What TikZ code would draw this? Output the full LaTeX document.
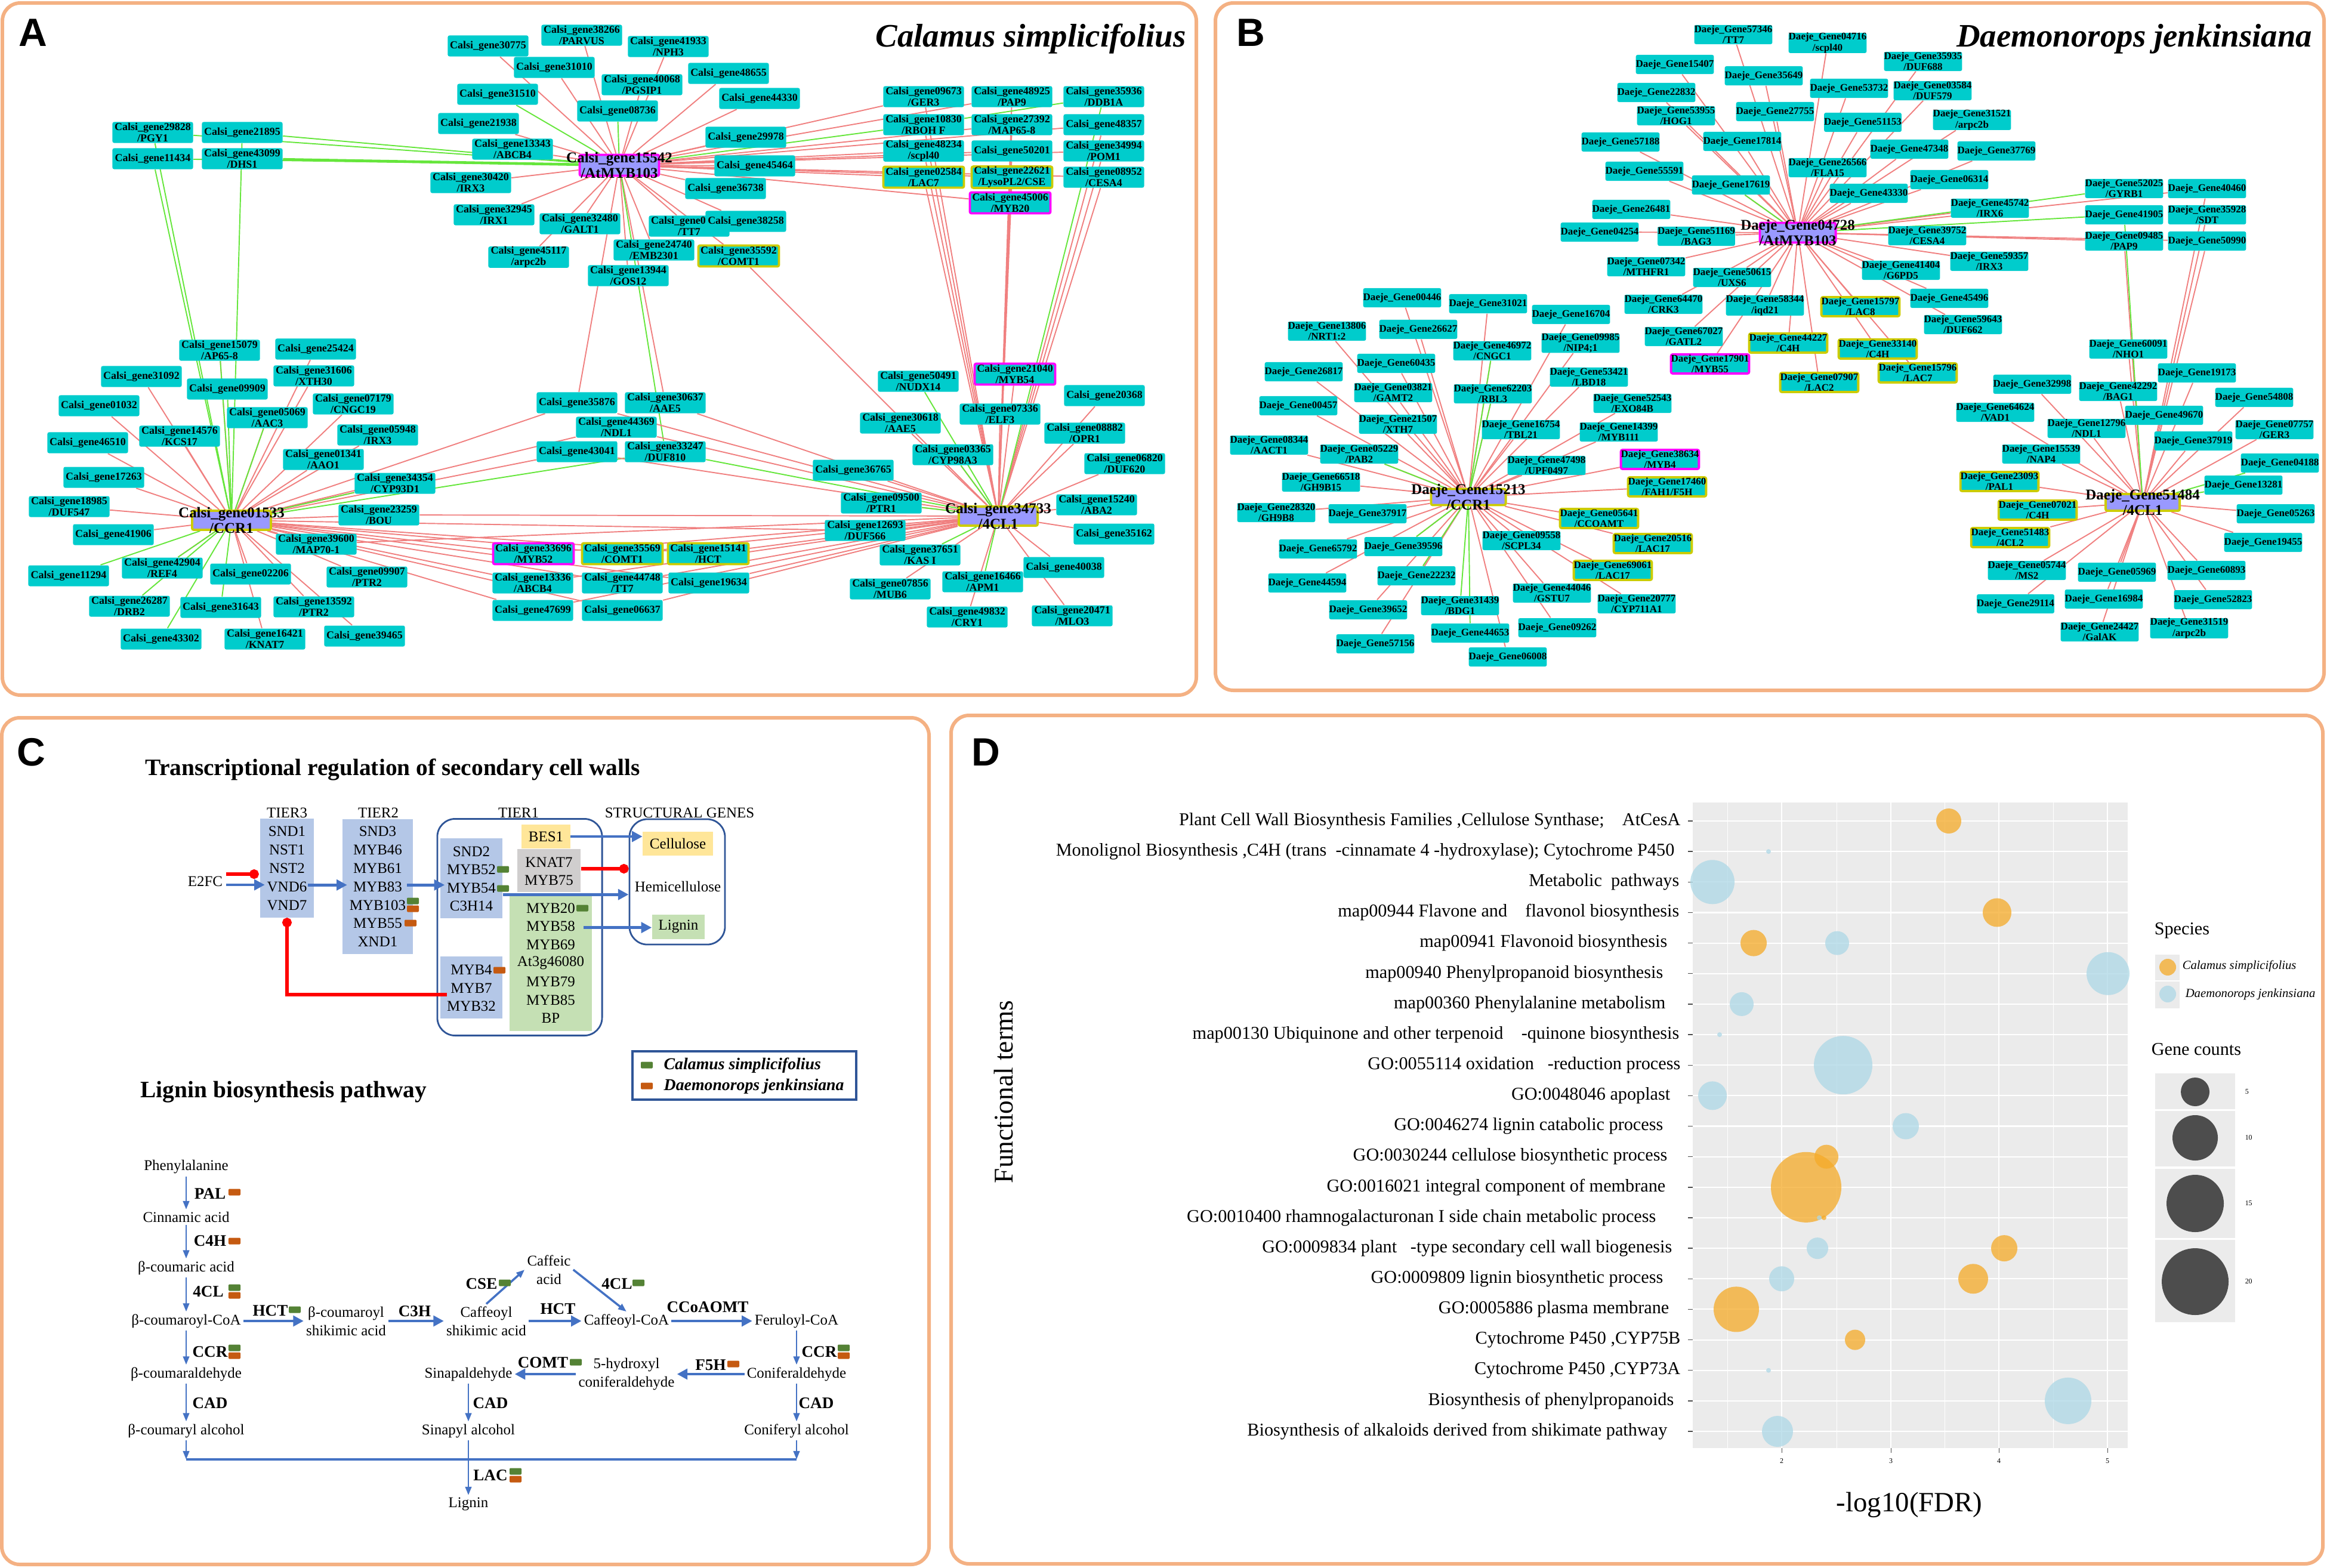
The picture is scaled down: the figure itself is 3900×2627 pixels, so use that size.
\documentclass[tikz,border=0pt]{standalone}
\usepackage{fontspec}
\setmainfont{Liberation Serif}
\setsansfont{Liberation Sans}
\usetikzlibrary{arrows.meta,backgrounds,calc,positioning}

\definecolor{framepeach}{RGB}{244,177,131}
\definecolor{genecyan}{RGB}{0,204,204}
\definecolor{hublilac}{RGB}{153,153,255}
\definecolor{ringyellow}{RGB}{204,204,0}
\definecolor{ringpink}{RGB}{255,0,255}
\definecolor{edgered}{RGB}{240,128,128}
\definecolor{edgegreen}{RGB}{102,230,60}
\definecolor{tierblue}{RGB}{180,199,231}
\definecolor{geneyellow}{RGB}{255,230,153}
\definecolor{knatgray}{RGB}{208,206,206}
\definecolor{mybgreen}{RGB}{197,224,180}
\definecolor{arrowblue}{RGB}{68,114,196}
\definecolor{boxnavy}{RGB}{47,85,151}
\definecolor{calsigreen}{RGB}{84,130,53}
\definecolor{daejeorange}{RGB}{197,90,17}
\definecolor{plotgray}{RGB}{235,235,235}
\definecolor{dotorange}{RGB}{245,170,40}
\definecolor{dotblue}{RGB}{173,216,230}
\definecolor{keygray}{RGB}{77,77,77}

\begin{document}
\begin{tikzpicture}[x=0.01cm, y=-0.01cm,
  frame/.style={draw=framepeach, line width=1.7pt, rounded corners=0.3cm},
  panel/.style={font=\fontsize{18.8}{20}\selectfont\sffamily\bfseries, inner sep=0pt},
  species/.style={font=\fontsize{15.6}{17}\selectfont\bfseries\itshape, inner sep=0pt},
  gene/.style={fill=genecyan, rounded corners=0.8pt, minimum width=1.35cm, minimum height=0.35cm,
    inner sep=0pt, align=center, font=\fontsize{5.1}{5.5}\selectfont\bfseries},
  geneb/.style={gene, minimum width=1.28cm, minimum height=0.32cm, font=\fontsize{4.85}{5.2}\selectfont\bfseries},
  ringy/.style={draw=ringyellow, line width=1.1pt},
  ringm/.style={draw=ringpink, line width=1.1pt},
  hub/.style={fill=hublilac, rounded corners=0.8pt, inner sep=0pt, line width=1.1pt},
  hubtext/.style={font=\fontsize{7.1}{7.6}\selectfont\bfseries, align=center, inner sep=0pt},
  redge/.style={draw=edgered, line width=0.55pt},
  gedge/.style={draw=edgegreen, line width=0.55pt},
  ctxt/.style={font=\fontsize{7.1}{8.8}\selectfont, inner sep=1pt, align=center},
  ctitle/.style={font=\fontsize{11.2}{12}\selectfont\bfseries, inner sep=0pt},
  enz/.style={font=\fontsize{7.7}{8}\selectfont\bfseries, inner sep=0pt},
  tierbox/.style={fill=tierblue, inner sep=0pt},
  navybox/.style={draw=boxnavy, line width=0.8pt, rounded corners=0.3cm, inner sep=0pt},
  sqg/.style={fill=calsigreen, minimum width=0.2cm, minimum height=0.11cm, inner sep=0pt, rounded corners=0.4pt},
  sqo/.style={sqg, fill=daejeorange},
  barrow/.style={draw=arrowblue, line width=1.4pt, -{Triangle[length=5pt,width=5pt]}},
  tarrow/.style={draw=arrowblue, line width=0.75pt, -{Triangle[length=4pt,width=3pt]}},
  rstop/.style={draw=red, line width=1.7pt, -{Circle[length=4.5pt]}},
  dlab/.style={font=\fontsize{8.6}{9}\selectfont, inner sep=0pt},
  dtick/.style={font=\fontsize{3.4}{4}\selectfont, inner sep=0pt},
  dleg/.style={font=\fontsize{8.6}{9}\selectfont, inner sep=0pt},
  dkey/.style={font=\fontsize{5.9}{6.5}\selectfont\itshape, inner sep=0pt},
]
\useasboundingbox (0,0) rectangle (3900,2627);
\newcommand{\calsi}[4][]{\node[gene,#1] (a#2) at (#3) {Calsi\_gene#2#4};}
\newcommand{\daeje}[4][]{\node[geneb,#1] (b#2) at (#3) {Daeje\_Gene#2#4};}
\newcommand{\wire}[4]{\foreach \g in {#4} \draw[#1] (#2) -- (#3\g);}

\draw[frame] (4,5) rectangle (2005,1165);
\draw[frame] (2037,5) rectangle (3895,1157);
\draw[frame] (3,1203) rectangle (1557,2622);
\draw[frame] (1594,1199) rectangle (3893,2621);

% A
\node[panel] (labA) at (55,55) {A};
\node[species, anchor=base east] (titA) at (1988,78) {Calamus simplicifolius};
\calsi{30775}{818,77}{}
\calsi{38266}{975,59}{\\/PARVUS}
\calsi{31010}{929,113}{}
\calsi{31510}{834,158}{}
\calsi{08736}{1035,186}{}
\calsi{21938}{802,207}{}
\calsi{13343}{859,250}{\\/ABCB4}
\calsi{30420}{789,306}{\\/IRX3}
\calsi{32945}{828,360}{\\/IRX1}
\calsi{32480}{972,375}{\\/GALT1}
\calsi{45117}{886,431}{\\/arpc2b}
\calsi{13944}{1053,462}{\\/GOS12}
\calsi{29828}{256,222}{\\/PGY1}
\calsi{21895}{406,222}{}
\calsi{11434}{256,266}{}
\calsi{43099}{406,266}{\\/DHS1}
\calsi{15079}{368,587}{\\/AP65-8}
\calsi{25424}{529,585}{}
\calsi{41933}{1120,78}{\\/NPH3}
\calsi{48655}{1221,123}{}
\calsi{40068}{1076,142}{\\/PGSIP1}
\calsi{44330}{1273,165}{}
\calsi{29978}{1250,230}{}
\calsi{45464}{1265,278}{}
\calsi{36738}{1216,316}{}
\node[gene] (aTT7) at (1155,379) {Calsi\_gene0\hphantom{0000}\\/TT7};
\calsi{38258}{1250,371}{}
\calsi{24740}{1096,419}{\\/EMB2301}
\calsi[ringy]{35592}{1238,429}{\\/COMT1}
\calsi{09673}{1548,162}{\\/GER3}
\calsi{48925}{1696,162}{\\/PAP9}
\calsi{35936}{1850,162}{\\/DDB1A}
\calsi{10830}{1548,209}{\\/RBOH F}
\calsi{27392}{1696,209}{\\/MAP65-8}
\calsi{48357}{1850,209}{}
\calsi{48234}{1548,253}{\\/scpl40}
\calsi{50201}{1696,253}{}
\calsi{34994}{1850,253}{\\/POM1}
\calsi[ringy]{02584}{1548,297}{\\/LAC7}
\calsi[ringy]{22621}{1696,297}{\\/LysoPL2/CSE}
\calsi{08952}{1850,297}{\\/CESA4}
\calsi[ringm]{45006}{1693,340}{\\/MYB20}
\calsi{31092}{237,631}{}
\calsi{09909}{381,652}{}
\calsi{31606}{526,630}{\\/XTH30}
\calsi{01032}{166,680}{}
\calsi{05069}{448,700}{\\/AAC3}
\calsi{07179}{592,677}{\\/CNGC19}
\calsi{14576}{301,731}{\\/KCS17}
\calsi{46510}{147,742}{}
\calsi{05948}{633,729}{\\/IRX3}
\calsi{01341}{542,770}{\\/AAO1}
\calsi{17263}{174,800}{}
\calsi{34354}{662,810}{\\/CYP93D1}
\calsi{18985}{116,849}{\\/DUF547}
\calsi{23259}{635,863}{\\/BOU}
\calsi{41906}{190,896}{}
\calsi{39600}{530,912}{\\/MAP70-1}
\calsi[ringm]{33696}{894,928}{\\/MYB52}
\calsi[ringy]{35569}{1043,928}{\\/COMT1}
\calsi{11294}{115,965}{}
\calsi{42904}{272,952}{\\/REF4}
\calsi{02206}{420,962}{}
\calsi{09907}{615,967}{\\/PTR2}
\calsi{13336}{893,977}{\\/ABCB4}
\calsi{44748}{1043,977}{\\/TT7}
\calsi{26287}{217,1016}{\\/DRB2}
\calsi{31643}{370,1018}{}
\calsi{13592}{526,1017}{\\/PTR2}
\calsi{47699}{893,1023}{}
\calsi{06637}{1043,1023}{}
\calsi{43302}{270,1071}{}
\calsi{16421}{444,1071}{\\/KNAT7}
\calsi{39465}{611,1066}{}
\calsi{35876}{967,675}{}
\calsi{44369}{1033,716}{\\/NDL1}
\calsi{43041}{967,757}{}
\calsi{30637}{1115,675}{\\/AAE5}
\calsi{33247}{1115,757}{\\/DUF810}
\calsi{50491}{1539,639}{\\/NUDX14}
\calsi[ringm]{21040}{1701,627}{\\/MYB54}
\calsi{20368}{1851,663}{}
\calsi{07336}{1676,694}{\\/ELF3}
\calsi{30618}{1509,709}{\\/AAE5}
\calsi{08882}{1818,726}{\\/OPR1}
\calsi{03365}{1597,762}{\\/CYP98A3}
\calsi{06820}{1885,777}{\\/DUF620}
\calsi{36765}{1430,788}{}
\calsi{09500}{1477,843}{\\/PTR1}
\calsi{15240}{1838,846}{\\/ABA2}
\calsi{12693}{1450,889}{\\/DUF566}
\calsi{35162}{1867,895}{}
\calsi[ringy]{15141}{1187,928}{\\/HCT}
\calsi{37651}{1542,930}{\\/KAS I}
\calsi{40038}{1783,951}{}
\calsi{19634}{1188,977}{}
\calsi{07856}{1492,987}{\\/MUB6}
\calsi{16466}{1647,975}{\\/APM1}
\calsi{49832}{1621,1034}{\\/CRY1}
\calsi{20471}{1797,1032}{\\/MLO3}
\node[hub, ringm, minimum width=1.33cm, minimum height=0.35cm] (aMYB) at (1038,277) {};
\node[hubtext] (aMYBt) at (aMYB) {Calsi\_gene15542\\/AtMYB103};
\node[hub, ringy, minimum width=1.32cm, minimum height=0.32cm] (aCCR) at (388,872) {};
\node[hubtext] (aCCRt) at (aCCR) {Calsi\_gene01533\\/CCR1};
\node[hub, ringy, minimum width=1.32cm, minimum height=0.32cm] (aCL) at (1673,865) {};
\node[hubtext] (aCLt) at (aCL) {Calsi\_gene34733\\/4CL1};

% B
\node[panel] (labB) at (2096,55) {B};
\node[species, anchor=base east] (titB) at (3876,78) {Daemonorops jenkinsiana};
\daeje{57346}{2905,58}{\\/TT7}
\daeje{15407}{2807,108}{}
\daeje{35649}{2956,127}{}
\daeje{22832}{2776,155}{}
\daeje{53955}{2809,194}{\\/HOG1}
\daeje{27755}{2975,187}{}
\daeje{57188}{2716,238}{}
\daeje{17814}{2920,237}{}
\daeje{55591}{2756,287}{}
\daeje{17619}{2901,310}{}
\daeje{26481}{2734,351}{}
\daeje{04254}{2681,389}{}
\daeje{51169}{2843,396}{\\/BAG3}
\daeje{07342}{2759,447}{\\/MTHFR1}
\daeje{50615}{2903,465}{\\/UXS6}
\daeje{64470}{2788,510}{\\/CRK3}
\daeje{58344}{2958,512}{\\/iqd21}
\daeje{67027}{2822,564}{\\/GATL2}
\daeje[ringy]{44227}{2997,575}{\\/C4H}
\daeje[ringm]{17901}{2866,610}{\\/MYB55}
\daeje{00446}{2350,499}{}
\daeje{31021}{2494,509}{}
\daeje{16704}{2633,527}{}
\daeje{13806}{2224,555}{\\/NRT1:2}
\daeje{26627}{2377,552}{}
\daeje{46972}{2501,588}{\\/CNGC1}
\daeje{09985}{2649,575}{\\/NIP4;1}
\daeje{60435}{2340,609}{}
\daeje{04716}{3063,72}{\\/scpl40}
\daeje{35935}{3223,103}{\\/DUF688}
\daeje{53732}{3099,148}{}
\daeje{03584}{3239,152}{\\/DUF579}
\daeje{51153}{3122,205}{}
\daeje{31521}{3305,201}{\\/arpc2b}
\daeje{47348}{3200,250}{}
\daeje{37769}{3346,253}{}
\daeje{26566}{3063,281}{\\/FLA15}
\daeje{06314}{3267,301}{}
\daeje{43330}{3132,324}{}
\daeje{45742}{3335,349}{\\/IRX6}
\daeje{52025}{3560,316}{\\/GYRB1}
\daeje{40460}{3699,316}{}
\daeje{41905}{3560,360}{}
\daeje{35928}{3699,360}{\\/SDT}
\daeje{09485}{3560,404}{\\/PAP9}
\daeje{50990}{3699,404}{}
\daeje{39752}{3230,395}{\\/CESA4}
\daeje{59357}{3334,438}{\\/IRX3}
\daeje{41404}{3186,453}{\\/G6PD5}
\daeje{45496}{3267,500}{}
\daeje[ringy]{15797}{3118,514}{\\/LAC8}
\daeje{59643}{3290,544}{\\/DUF662}
\daeje[ringy]{33140}{3147,585}{\\/C4H}
\daeje{60091}{3567,585}{\\/NHO1}
\daeje{26817}{2185,623}{}
\daeje{03821}{2335,658}{\\/GAMT2}
\daeje{62203}{2502,660}{\\/RBL3}
\daeje{53421}{2663,632}{\\/LBD18}
\daeje{00457}{2176,680}{}
\daeje{52543}{2736,676}{\\/EXO84B}
\daeje{21507}{2343,711}{\\/XTH7}
\daeje{16754}{2549,720}{\\/TBL21}
\daeje{14399}{2713,724}{\\/MYB111}
\daeje{08344}{2127,746}{\\/AACT1}
\daeje{05229}{2278,761}{\\/PAB2}
\daeje{47498}{2592,780}{\\/UPF0497}
\daeje[ringm]{38634}{2782,770}{\\/MYB4}
\daeje{66518}{2214,808}{\\/GH9B15}
\daeje[ringy]{17460}{2794,816}{\\/FAH1/F5H}
\daeje{28320}{2139,859}{\\/GH9B8}
\daeje{37917}{2292,861}{}
\daeje[ringy]{05641}{2680,869}{\\/CCOAMT}
\daeje{65792}{2209,920}{}
\daeje{39596}{2352,916}{}
\daeje{09558}{2550,906}{\\/SCPL34}
\daeje[ringy]{20516}{2770,911}{\\/LAC17}
\daeje{22232}{2374,965}{}
\daeje[ringy]{69061}{2703,956}{\\/LAC17}
\daeje{44594}{2191,977}{}
\daeje{44046}{2601,994}{\\/GSTU7}
\daeje{31439}{2447,1015}{\\/BDG1}
\daeje{20777}{2743,1012}{\\/CYP711A1}
\daeje{39652}{2293,1022}{}
\daeje{09262}{2610,1052}{}
\daeje{44653}{2464,1061}{}
\daeje{57156}{2305,1079}{}
\daeje{06008}{2527,1101}{}
\daeje[ringy]{07907}{3049,641}{\\/LAC2}
\daeje[ringy]{15796}{3214,625}{\\/LAC7}
\daeje{19173}{3682,625}{}
\daeje{32998}{3406,644}{}
\daeje{42292}{3550,656}{\\/BAG1}
\daeje{54808}{3778,666}{}
\daeje{64624}{3344,691}{\\/VAD1}
\daeje{49670}{3627,696}{}
\daeje{12796}{3497,718}{\\/NDL1}
\daeje{07757}{3812,720}{\\/GER3}
\daeje{37919}{3676,739}{}
\daeje{15539}{3421,761}{\\/NAP4}
\daeje{04188}{3821,776}{}
\daeje[ringy]{23093}{3351,807}{\\/PAL1}
\daeje{13281}{3760,813}{}
\daeje[ringy]{07021}{3415,855}{\\/C4H}
\daeje{05263}{3814,861}{}
\daeje[ringy]{51483}{3369,901}{\\/4CL2}
\daeje{19455}{3793,909}{}
\daeje{05744}{3397,956}{\\/MS2}
\daeje{05969}{3548,959}{}
\daeje{60893}{3698,956}{}
\daeje{29114}{3378,1012}{}
\daeje{16984}{3526,1004}{}
\daeje{52823}{3709,1005}{}
\daeje{24427}{3519,1059}{\\/GalAK}
\daeje{31519}{3669,1053}{\\/arpc2b}
\node[hub, ringm, minimum width=1.27cm, minimum height=0.33cm] (bMYB) at (3013,390) {};
\node[hubtext] (bMYBt) at (bMYB) {Daeje\_Gene04728\\/AtMYB103};
\node[hub, ringy, minimum width=1.25cm, minimum height=0.27cm] (bCCR) at (2461,833) {};
\node[hubtext] (bCCRt) at (bCCR) {Daeje\_Gene15213\\/CCR1};
\node[hub, ringy, minimum width=1.24cm, minimum height=0.28cm] (bCL) at (3591,842) {};
\node[hubtext] (bCLt) at (bCL) {Daeje\_Gene51484\\/4CL1};

\begin{pgfonlayer}{background}
\wire{redge}{aMYB}{a}{30775,38266,31010,21938,13343,30420,32945,32480,45117,13944,41933,40068,48655,44330,29978,45464,36738,TT7,38258,24740,35592,09673,48234,02584,50201,22621,45006,27392,34994,08952,48357,48925,35876,30637}
\wire{gedge}{aMYB}{a}{31510,08736,29828,21895,11434,10830,33247}
\draw[gedge, line width=1.3pt] (aMYB) -- (a43099);
\wire{redge}{aCCR}{a}{31092,31606,01032,05069,07179,14576,46510,05948,01341,17263,34354,18985,23259,41906,39600,33696,35569,42904,02206,09907,13336,44748,13592,47699,06637,16421,39465,15079,25424,35876,44369,43041,15141,19634,12693}
\wire{gedge}{aCCR}{a}{09909,05069,11294,42904,26287,31643,43302,15079,29828,11434,21895,34354,33247}
\wire{redge}{aCL}{a}{21040,20368,07336,30618,08882,03365,06820,36765,09500,15240,12693,35162,15141,40038,19634,07856,49832,20471,30637,44369,43041,35876,33696,35569,13336,44748,47699,06637,39600,23259,09673,10830,48234,02584,48925,27392,50201,22621,45006,48357,34994,08952,35592}
\wire{gedge}{aCL}{a}{50491,37651,16466,33247,09500,35936,03365}
\draw[gedge] (a10830) -- (a35936);
\wire{redge}{bMYB}{b}{57346,15407,35649,22832,53955,27755,57188,17814,55591,17619,26481,04254,51169,07342,50615,64470,58344,67027,44227,17901,04716,35935,53732,03584,51153,31521,47348,37769,26566,06314,43330,45742,39752,59357,41404,45496,15797,59643,33140,09485,40460,50990,15796,07907}
\wire{gedge}{bMYB}{b}{17619,52025,41905}
\wire{redge}{bCCR}{b}{00446,31021,16704,13806,26627,46972,09985,60435,26817,03821,53421,00457,52543,21507,16754,14399,08344,05229,47498,38634,66518,17460,28320,37917,05641,65792,39596,09558,20516,22232,69061,44594,44046,20777,39652,09262,57156,06008,62203}
\wire{gedge}{bCCR}{b}{46972,62203,05229,39596,22232,31439,44653}
\wire{redge}{bCL}{b}{19173,32998,42292,54808,64624,49670,12796,07757,37919,15539,23093,07021,05263,51483,19455,05744,05969,60893,29114,16984,52823,24427,31519,60091,40460,35928,50990,09485}
\wire{gedge}{bCL}{b}{41905,13281,04188}
\end{pgfonlayer}

% C
\node[panel] (labC) at (52,1261) {C};
\node[ctitle, anchor=base west] (titC) at (243,1299) {Transcriptional regulation of secondary cell walls};
\node[ctxt] (hT3) at (481,1362) {TIER3};
\node[ctxt] (hT2) at (634,1362) {TIER2};
\node[ctxt] (hT1) at (869,1362) {TIER1};
\node[ctxt] (hSG) at (1139,1362) {STRUCTURAL GENES};
\node[tierbox, minimum width=0.89cm, minimum height=1.65cm] (tier3) at (481,1455) {};
\node[tierbox, minimum width=1.17cm, minimum height=2.26cm] (tier2) at (633,1486) {};
\node[navybox, minimum width=2.76cm, minimum height=3.63cm] (tier1) at (871,1554) {};
\node[tierbox, minimum width=1.04cm, minimum height=1.34cm] (tier1a) at (790,1472) {};
\node[fill=geneyellow, ctxt, minimum width=0.81cm, minimum height=0.40cm] (bes1) at (915,1402) {BES1};
\node[fill=knatgray, minimum width=1.06cm, minimum height=0.72cm] (knat) at (920,1459) {};
\node[fill=mybgreen, minimum width=1.37cm, minimum height=2.28cm] (mybg) at (923,1614) {};
\node[tierbox, minimum width=1.04cm, minimum height=1.03cm] (tier4) at (790,1655) {};
\node[navybox, minimum width=1.60cm, minimum height=2.10cm] (structbox) at (1135,1478) {};
\node[fill=geneyellow, ctxt, minimum width=1.17cm, minimum height=0.40cm] (cellulose) at (1136,1414) {Cellulose};
\node[ctxt] (hemi) at (1136,1486) {Hemicellulose};
\node[fill=mybgreen, ctxt, minimum width=0.88cm, minimum height=0.41cm] (lignin) at (1137,1553) {Lignin};
\foreach \g [count=\i] in {SND1,NST1,NST2,VND6,VND7}
  \node[ctxt] (t3\g) at (481,{1363+\i*30.8}) {\g};
\foreach \g [count=\i] in {SND3,MYB46,MYB61,MYB83,MYB103,MYB55,XND1}
  \node[ctxt] (t2\g) at (633,{1363+\i*30.8}) {\g};
\foreach \g [count=\i] in {SND2,MYB52,MYB54,C3H14}
  \node[ctxt] (t1\g) at (790,{1397+\i*30.3}) {\g};
\foreach \g [count=\i] in {KNAT7,MYB75}
  \node[ctxt] (kn\g) at (920,{1415+\i*30}) {\g};
\foreach \g [count=\i] in {MYB20,MYB58,MYB69,At3g46080,MYB79,MYB85,BP}
  \node[ctxt] (gr\g) at (923,{1491+\i*30.8}) {\g};
\foreach \g [count=\i] in {MYB4,MYB7,MYB32}
  \node[ctxt] (t4\g) at (790,{1595+\i*30.5}) {\g};
\node[sqg] (s1) at (692,1510) {};
\node[sqo] (s2) at (692,1523) {};
\node[sqo] (s3) at (688,1547) {};
\node[sqg] (s4) at (843,1457) {};
\node[sqg] (s5) at (843,1489) {};
\node[sqg] (s6) at (976,1522) {};
\node[sqo] (s7) at (837,1626) {};
\node[ctxt] (e2fc) at (344,1477) {E2FC};
\draw[rstop] ($(e2fc.east)+(2,-12)$) -- ($(tier3.west |- e2fc.east)+(-2,-12)$);
\draw[barrow] ($(e2fc.east)+(2,6)$) -- ($(tier3.west |- e2fc.east)+(8,6)$);
\draw[barrow] ($(tier3.east |- t2MYB83)+(-10,-3)$) -- ($(tier2.west |- t2MYB83)+(8,-3)$);
\draw[barrow] ($(tier2.east |- t2MYB83)+(-10,-3)$) -- ($(tier1a.west |- t2MYB83)+(8,-3)$);
\draw[barrow] (bes1.east) -- (bes1.east -| cellulose.west);
\draw[rstop] (knat.east |- 0,1456) -- (structbox.west |- 0,1456);
\draw[barrow] (tier1a.east |- mybg.north) -- (structbox.west |- mybg.north);
\draw[barrow] ($(mybg.east |- grMYB58)+(-14,2)$) -- ($(lignin.west |- grMYB58)+(0,2)$);
\draw[rstop] ($(tier4.west)+(12,12)$) -| (tier3.south);
\draw[boxnavy, line width=0.9pt] (1060,1762) rectangle (1435,1843);
\node[sqg] (lg1) at (1084,1785) {};
\node[sqo] (lg2) at (1084,1820) {};
\node[font=\fontsize{7.9}{8}\selectfont\bfseries\itshape, anchor=west, inner sep=0pt] (lgt1) at (1112,1786) {Calamus simplicifolius};
\node[font=\fontsize{7.9}{8}\selectfont\bfseries\itshape, anchor=west, inner sep=0pt] (lgt2) at (1112,1821) {Daemonorops jenkinsiana};
\node[ctitle, anchor=base west] (titL) at (235,1839) {Lignin biosynthesis pathway};

\node[ctxt] (phe) at (312,1956) {Phenylalanine};
\node[ctxt] (cin) at (312,2040) {Cinnamic acid};
\node[ctxt] (pca) at (312,2125) {β-coumaric acid};
\node[ctxt] (pcoa) at (312,2214) {β-coumaroyl-CoA};
\node[ctxt] (pald) at (312,2303) {β-coumaraldehyde};
\node[ctxt] (palc) at (312,2398) {β-coumaryl alcohol};
\node[ctxt] (pcs) at (580,2214) {β-coumaroyl\\shikimic acid};
\node[ctxt] (cfs) at (815,2214) {Caffeoyl\\shikimic acid};
\node[ctxt] (caf) at (920,2128) {Caffeic\\acid};
\node[ctxt] (ccoa) at (1050,2214) {Caffeoyl-CoA};
\node[ctxt] (fcoa) at (1335,2214) {Feruloyl-CoA};
\node[ctxt] (cald) at (1335,2303) {Coniferaldehyde};
\node[ctxt] (hcald) at (1050,2303) {5-hydroxyl\\coniferaldehyde};
\node[ctxt] (sald) at (785,2303) {Sinapaldehyde};
\node[ctxt] (salc) at (785,2398) {Sinapyl alcohol};
\node[ctxt] (calc) at (1335,2398) {Coniferyl alcohol};
\node[ctxt] (lig) at (785,2521) {Lignin};
\coordinate (lacbar) at (785,2446);

\draw[tarrow] (phe) -- (cin);
\draw[tarrow] (cin) -- (pca);
\draw[tarrow] (pca) -- (pcoa);
\draw[tarrow] (pcoa) -- (pald);
\draw[tarrow] (pald) -- (palc);
\draw[tarrow] (sald) -- (salc);
\draw[tarrow] (fcoa) -- (cald);
\draw[tarrow] (cald) -- (calc);
\draw[barrow] (pcoa) -- (pcs);
\draw[barrow] (pcs) -- (cfs);
\draw[barrow] (cfs) -- (ccoa);
\draw[barrow] (ccoa) -- (fcoa);
\draw[barrow] (cald) -- (hcald);
\draw[barrow] (hcald) -- (sald);
\draw[tarrow, line width=1pt] (cfs.north) -- (caf.west);
\draw[tarrow, line width=1pt] (caf.east) -- (ccoa.north);
\draw[draw=arrowblue, line width=1.4pt] (palc |- lacbar) -- (calc |- lacbar);
\draw[tarrow] (palc) -- (palc |- lacbar);
\draw[tarrow] (calc) -- (calc |- lacbar);
\draw[tarrow] (salc) -- (lig);

\node[enz] (ePAL) at (352,2001) {PAL};
\node[enz] (eC4H) at (352,2080) {C4H};
\node[enz] (e4CL) at (349,2165) {4CL};
\node[enz] (eCCR) at (352,2266) {CCR};
\node[enz] (eCAD1) at (352,2352) {CAD};
\node[enz] (eHCT1) at (453,2197) {HCT};
\node[enz] (eC3H) at (695,2198) {C3H};
\node[enz] (eCSE) at (807,2152) {CSE};
\node[enz] (e4CLb) at (1034,2152) {4CL};
\node[enz] (eHCT2) at (935,2194) {HCT};
\node[enz] (eCCo) at (1186,2191) {CCoAOMT};
\node[enz] (eCCR2) at (1373,2266) {CCR};
\node[enz] (eF5H) at (1191,2288) {F5H};
\node[enz] (eCOMT) at (910,2284) {COMT};
\node[enz] (eCAD2) at (822,2352) {CAD};
\node[enz] (eCAD3) at (1368,2352) {CAD};
\node[enz] (eLAC) at (822,2473) {LAC};
\node[sqo] at (393,1998) {};
\node[sqo] at (393,2080) {};
\node[sqg] at (393,2158) {};
\node[sqo] at (393,2171) {};
\node[sqg] at (393,2259) {};
\node[sqo] at (393,2272) {};
\node[sqg] at (494,2195) {};
\node[sqg] at (846,2150) {};
\node[sqg] at (1070,2150) {};
\node[sqg] at (1414,2259) {};
\node[sqo] at (1414,2272) {};
\node[sqo] at (1229,2286) {};
\node[sqg] at (965,2283) {};
\node[sqg] at (864,2466) {};
\node[sqo] at (864,2479) {};

% D
\node[panel] (labD) at (1652,1261) {D};
\fill[plotgray] (2837,1345) rectangle (3566,2427);
\foreach \x in {2895,3078,3259,3441} \draw[white, line width=0.3pt] (\x,1345) -- (\x,2427);
\foreach \x in {2986,3169,3350,3532} \draw[white, line width=0.6pt] (\x,1345) -- (\x,2427);
\foreach \i in {0,...,20} {
  \draw[white, line width=0.6pt] (2837,{1376+\i*51.15}) -- (3566,{1376+\i*51.15});
  \draw[black!70, line width=0.4pt] (2829,{1376+\i*51.15}) -- (2837,{1376+\i*51.15});
}
\foreach \x/\v in {2986/2,3169/3,3350/4,3532/5} {
  \draw[black!70, line width=0.3pt] (\x,2427) -- (\x,2435);
  \node[dtick] at (\x,2449) {\v};
}
\foreach \lab/\rx [count=\i from 0] in {
  {Plant Cell Wall Biosynthesis Families ,Cellulose Synthase;\ \ \ \ AtCesA}/2817,
  {Monolignol Biosynthesis ,C4H (trans\ \ -cinnamate 4 -hydroxylase); Cytochrome P450}/2807,
  {Metabolic\ \ pathways}/2815,
  {map00944 Flavone and\ \ \ \ flavonol biosynthesis}/2815,
  {map00941 Flavonoid biosynthesis}/2795,
  {map00940 Phenylpropanoid biosynthesis}/2788,
  {map00360 Phenylalanine metabolism}/2792,
  {map00130 Ubiquinone and other terpenoid\ \ \ \ -quinone biosynthesis}/2815,
  {GO:0055114 oxidation\ \ \ -reduction process}/2817,
  {GO:0048046 apoplast}/2800,
  {GO:0046274 lignin catabolic process}/2788,
  {GO:0030244 cellulose biosynthetic process}/2795,
  {GO:0016021 integral component of membrane}/2792,
  {GO:0010400 rhamnogalacturonan I side chain metabolic process}/2776,
  {GO:0009834 plant\ \ \ -type secondary cell wall biogenesis}/2803,
  {GO:0009809 lignin biosynthetic process}/2788,
  {GO:0005886 plasma membrane}/2798,
  {Cytochrome P450 ,CYP75B}/2817,
  {Cytochrome P450 ,CYP73A}/2817,
  {Biosynthesis of phenylpropanoids}/2806,
  {Biosynthesis of alkaloids derived from shikimate pathway}/2795}
  \node[dlab, anchor=east] (term\i) at (\rx,{1376+\i*51.15}) {\lab};
\foreach \x/\r/\i/\c in {3266/21/0/dotorange, 2964/4/1/dotblue, 2870/37/2/dotblue,
  3347/24/3/dotorange, 2939/22/4/dotorange, 3079/20/4/dotblue, 3533/36/5/dotblue,
  2919/20/6/dotblue, 2882/4/7/dotblue, 3089/49/8/dotblue, 2870/24/9/dotblue,
  3194/22/10/dotblue, 3027/59/12/dotorange, 3061/20/11/dotorange, 3049/4/13/dotblue,
  3057/4/13/dotorange, 3046/18/14/dotblue, 3359/22/14/dotorange, 2986/21/15/dotblue,
  3307/25/15/dotorange, 2910/38/16/dotorange, 3109/17/17/dotorange, 2964/4/18/dotblue,
  3466/39/19/dotblue, 2979/26/20/dotblue}
  \fill[\c, fill opacity=0.75] (\x,{1376+\i*51.15}) circle[radius=\r*0.01cm];
\node[font=\fontsize{12.9}{13}\selectfont, rotate=90, inner sep=0pt] (ytit) at (1682,1830) {Functional terms};
\node[font=\fontsize{13.3}{14}\selectfont, inner sep=0pt] (xtit) at (3200,2522) {-log10(FDR)};
\node[dleg, anchor=west] (spec) at (3610,1560) {Species};
\fill[plotgray] (3612,1600) rectangle (3653,1643);
\fill[plotgray] (3612,1645) rectangle (3653,1690);
\fill[dotorange, fill opacity=0.75] (3633,1621) circle[radius=0.14cm];
\fill[dotblue, fill opacity=0.75] (3633,1666) circle[radius=0.14cm];
\node[dkey, anchor=west] (k1) at (3657,1619) {Calamus simplicifolius};
\node[dkey, anchor=west] (k2) at (3662,1666) {Daemonorops jenkinsiana};
\node[dleg, anchor=west] (gcnt) at (3605,1759) {Gene counts};
\foreach \ya/\yb/\yc/\r/\v in {1799/1859/1830/24/5, 1862/1955/1907/38/10, 1959/2075/2017/48/15, 2078/2216/2148/56/20} {
  \fill[plotgray] (3612,\ya) rectangle (3746,\yb);
  \fill[keygray] (3679,\yc) circle[radius=\r*0.01cm];
  \node[dtick, anchor=west] at (3762,\yc) {\v};
}
\end{tikzpicture}
\end{document}
